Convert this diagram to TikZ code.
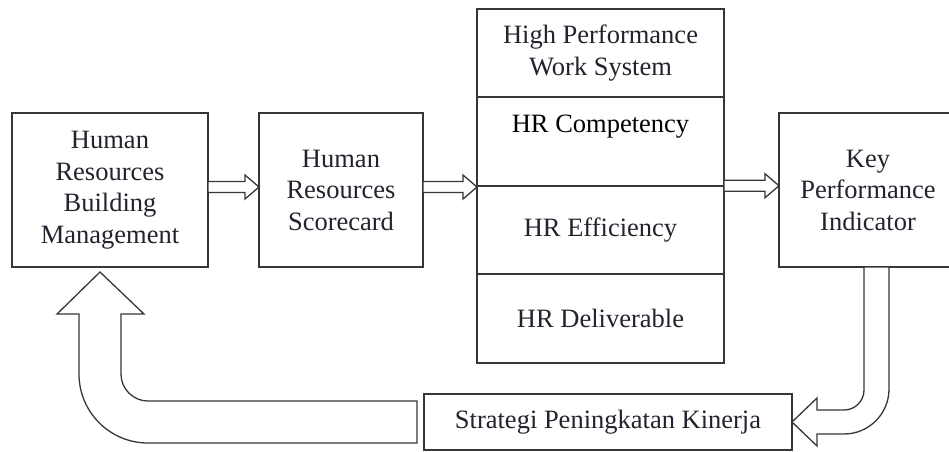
\documentclass[tikz,border=0pt]{standalone}
\usepackage{fontspec}
\setmainfont{Liberation Serif}
\usetikzlibrary{positioning,calc}

\definecolor{edge}{RGB}{55,55,55}
\definecolor{ink}{RGB}{35,35,45}

\tikzset{
  box/.style={draw=edge, line width=1.6pt, fill=white, align=center, text=ink,
    inner sep=0pt, outer sep=0pt, font=\fontsize{26.5}{31.5}\selectfont},
  part/.style={box, minimum width=247pt, minimum height=88.5pt},
  fat/.style={draw=edge, line width=1.3pt, fill=white, line join=miter},
  % hollow arrow between two boxes, kept at the height of its start
  hollow/.style={fat, to path={let \p1=(\tikztostart), \p2=(\tikztotarget) in
    (\x1,\y1+5.5pt) -- (\x2-14pt,\y1+5.5pt) -- (\x2-14pt,\y1+12pt) -- (\x2,\y1)
    -- (\x2-14pt,\y1-12pt) -- (\x2-14pt,\y1-5.5pt) -- (\x1,\y1-5.5pt) -- cycle}}
}

\begin{document}
\begin{tikzpicture}[x=1pt,y=-1pt]
 \useasboundingbox (0,0) rectangle (949,451);
 \clip (0,0) rectangle (949,451);

 \node[box, minimum width=196pt, minimum height=154pt] (hrbm) at (110,190)
   {Human\\Resources\\Building\\Management};
 \node[box, minimum width=164pt, minimum height=154pt] (hrs) [right=51pt of hrbm]
   {Human\\Resources\\Scorecard};

 % the stacked column
 \node[part] (hpws) at (600.5,53) {High Performance\\Work System};
 \node[part, text=black, text depth=36pt] (comp) [below=0pt of hpws] {HR Competency};
 \node[part] (eff) [below=0pt of comp] {HR Efficiency};
 \node[part] (deliv) [below=0pt of eff] {HR Deliverable};

 \node[box, minimum width=178pt, minimum height=154pt] (kpi) at (868,190)
   {Key\\Performance\\Indicator};
 \node[box, minimum width=368pt, minimum height=56pt] (strat) at (608,422)
   {Strategi Peningkatan Kinerja};

 \draw[hollow] ([yshift=3pt]hrbm.east) to (hrs.west);
 \draw[hollow] ([yshift=3pt]hrs.east) to (comp.south west);
 \draw[hollow] (comp.south east) to (kpi.west);

 % bent arrow down from the indicator box
 \draw[fat] let \p1=([xshift=8.5pt]kpi.south), \p2=(strat.east) in
   (\x1-12.5pt,\y1) -- (\x1-12.5pt,\y2+32pt)
   arc[start angle=0, end angle=-90, radius=20pt]
   -- (\x2+25pt,\y2+12pt) -- (\x2+25pt,\y2+24pt) -- (\x2,\y2)
   -- (\x2+25pt,\y2-24pt) -- (\x2+25pt,\y2-12pt) -- (\x1+12.5pt-45pt,\y2-12pt)
   arc[start angle=-90, end angle=0, radius=45pt]
   -- (\x1+12.5pt,\y1) -- cycle;

 % wide arrow back to the first box
 \draw[fat] let \p1=(strat.west), \p2=(hrbm.south) in
   (\x1-7pt,\y1+21pt) -- (\x2+38pt,\y1+21pt)
   arc[start angle=-90, end angle=-180, radius=27pt]
   -- (\x2+11pt,\y2-47pt) -- (\x2+34pt,\y2-47pt) -- (\x2-10pt,\y2-5pt)
   -- (\x2-53pt,\y2-47pt) -- (\x2-31pt,\y2-47pt) -- (\x2-31pt,\y1+48pt)
   arc[start angle=180, end angle=270, radius=69pt]
   -- (\x1-7pt,\y1-21pt) -- cycle;
\end{tikzpicture}
\end{document}
